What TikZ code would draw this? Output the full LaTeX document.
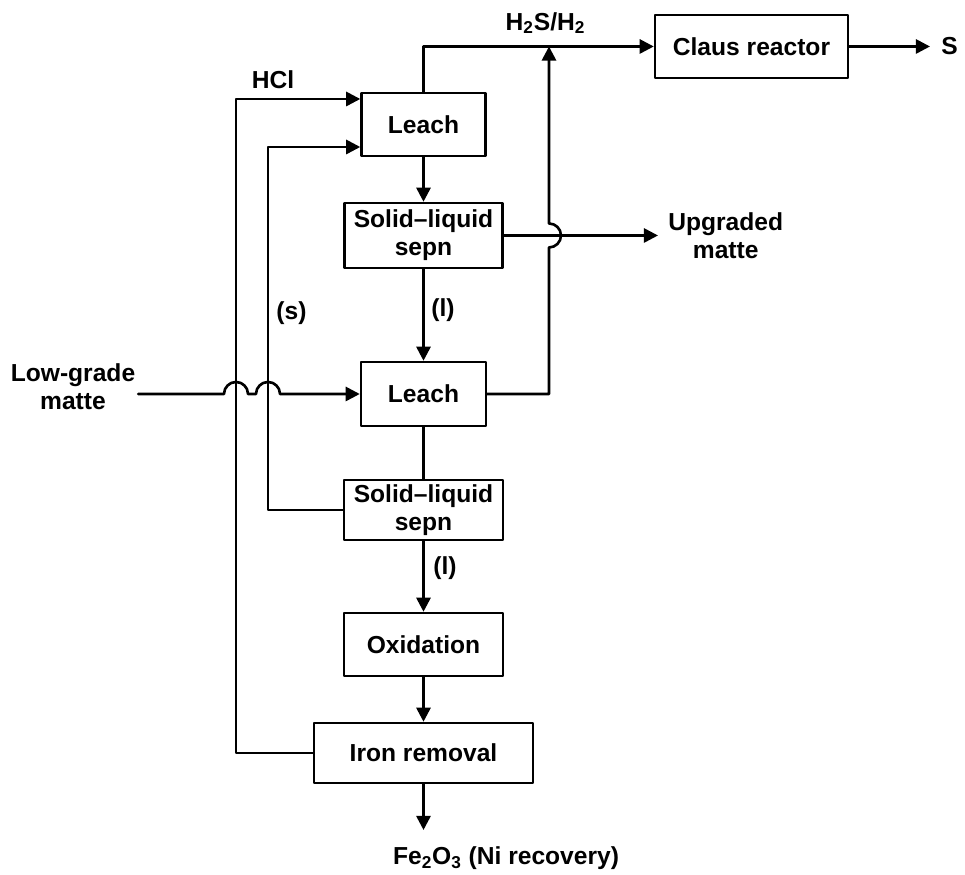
\documentclass[tikz,border=0pt]{standalone}
\usepackage{fontspec}
\setmainfont{Liberation Sans}
\usetikzlibrary{arrows.meta}

\begin{document}
\begin{tikzpicture}[line cap=round,line join=round,>={Triangle[length=8pt,width=8pt]},line width=1.5pt,
  every node/.style={inner sep=1pt,font=\bfseries\fontsize{14}{16}\selectfont},
  unit/.style={draw,line width=1.4pt,align=center,inner sep=0pt}]
  \useasboundingbox (0,0) rectangle (19.3,17.5);
  \def\cx{8.47}
  \def\rx{10.98}
  \def\hop{0.24}
  % process units
  \node[unit,minimum width=2.48cm,minimum height=1.26cm] (leachA) at (\cx,15.01) {Leach};
  \node[unit,minimum width=3.16cm,minimum height=1.30cm] (sepA) at (\cx,12.79) {Solid--liquid\\sepn};
  \node[unit,minimum width=2.50cm,minimum height=1.28cm] (leachB) at (\cx,9.62) {Leach};
  \node[unit,minimum width=3.18cm,minimum height=1.20cm] (sepB) at (\cx,7.30) {Solid--liquid\\sepn};
  \node[unit,minimum width=3.18cm,minimum height=1.26cm] (oxid) at (\cx,4.61) {Oxidation};
  \node[unit,minimum width=4.38cm,minimum height=1.20cm] (iron) at (\cx,2.44) {Iron removal};
  \node[unit,minimum width=3.86cm,minimum height=1.26cm] (claus) at (15.03,16.57) {Claus reactor};
  % streams in and out
  \node[align=center] (lowg) at (1.46,9.76) {Low-grade\\matte};
  \node[anchor=west,align=center,inner xsep=0.18cm] (upg) at (13.16,12.79) {Upgraded\\matte};
  \node[anchor=west,inner xsep=0.2cm] (sOut) at (18.6,16.57) {S};
  \node[anchor=west] (fe) at (7.8,0.34) {Fe\textsubscript{2}O\textsubscript{3} (Ni recovery)};
  \node (hcl) at (5.46,15.9) {HCl};
  \node (gas) at (10.91,17.04) {H\textsubscript{2}S/H\textsubscript{2}};
  \node (solid) at (5.83,11.24) {(s)};
  \node (liqA) at (8.86,11.3) {(l)};
  \node (liqB) at (8.9,6.14) {(l)};
  \coordinate (hclIn) at (4.72,15.52);
  \coordinate (sIn) at (5.36,14.56);
  \coordinate (feEnd) at (\cx,0.9);
  % main column
  \draw[->] (leachA.south) -- (sepA.north);
  \draw[->] (sepA.south) -- (leachB.north);
  \draw (leachB.south) -- (sepB.north);
  \draw[->] (sepB.south) -- (oxid.north);
  \draw[->] (oxid.south) -- (iron.north);
  \draw[->] (iron.south) -- (feEnd);
  % recycles
  \draw[->] (iron.west) -| (hclIn) -- (hclIn -| leachA.west);
  \draw[->] (sepB.west) -| (sIn) -- (sIn -| leachA.west);
  \draw[->] (lowg.east |- leachB.west) \foreach \h in {4.72,5.36}{ -- ({\h-\hop},9.62) arc[start angle=180,end angle=0,radius=\hop] } -- (leachB.west);
  % gas to Claus
  \draw[->] (leachA.north) |- (claus.west);
  \draw[->] (leachB.east) -| (\rx,{12.79-\hop}) arc[start angle=-90,end angle=90,radius=\hop] -- (\rx,16.57);
  \draw[->] (claus.east) -- (sOut.west);
  \draw[->] (sepA.east) -- (upg.west);
\end{tikzpicture}
\end{document}
